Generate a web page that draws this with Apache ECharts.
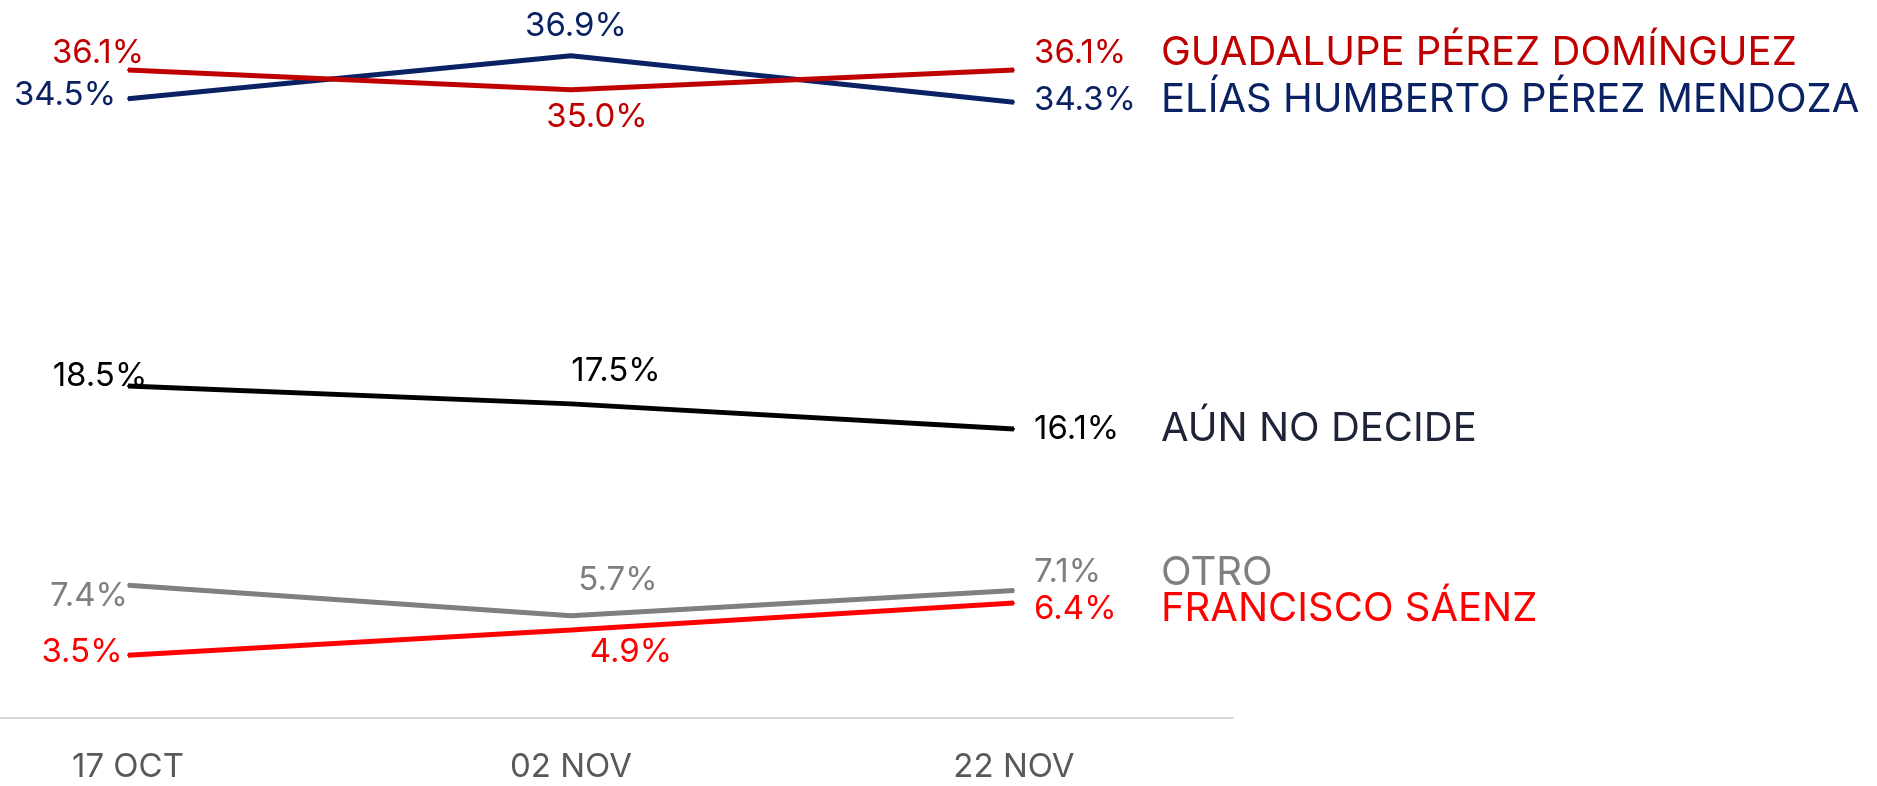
<!DOCTYPE html>
<html>
<head>
<meta charset="utf-8">
<script src="https://cdn.jsdelivr.net/npm/echarts@6/dist/echarts.min.js"></script>
<style>
  html, body { margin: 0; padding: 0; background: #fff; }
  #chart { width: 1877px; height: 786px; }
</style>
</head>
<body>
<div id="chart"></div>
<script>
// datos
const fechas = ['17 OCT', '02 NOV', '22 NOV'];
const guadalupe = [36.1, 35.0, 36.1];
const elias = [34.5, 36.9, 34.3];
const aunNoDecide = [18.5, 17.5, 16.1];
const otro = [7.4, 5.7, 7.1];
const francisco = [3.5, 4.9, 6.4];

const nombres = ['GUADALUPE PÉREZ DOMÍNGUEZ', 'ELÍAS HUMBERTO PÉREZ MENDOZA', 'AÚN NO DECIDE', 'OTRO', 'FRANCISCO SÁENZ'];

const FONT = 'Inter, "Noto Sans", sans-serif';

// colores y desplazamiento de etiquetas (centro de etiqueta respecto al punto)
const cfg = [
  { data: guadalupe, line: '#c00000', text: '#c00000', name: '#c00000', offs: [[-30, -17], [26, 27]], end: -17 },
  { data: elias, line: '#0a2263', text: '#0a2263', name: '#0a2263', offs: [[-63, -4], [5, -30]], end: -2 },
  { data: aunNoDecide, line: '#000000', text: '#000000', name: '#1f2337', offs: [[-28, -10], [45, -33]], end: 0 },
  { data: otro, line: '#7f7f7f', text: '#7f7f7f', name: '#7f7f7f', offs: [[-39, 11], [47, -36]], end: -18 },
  { data: francisco, line: '#ff0000', text: '#ff0000', name: '#ff0000', offs: [[-46, -3], [60, 22]], end: 6 },
];

const chart = echarts.init(document.getElementById('chart'));

const series = cfg.map((c, i) => ({
  type: 'line',
  name: nombres[i],
  xAxisIndex: 0,
  yAxisIndex: 0,
  symbol: 'circle',
  symbolSize: 2,
  itemStyle: { color: c.line },
  lineStyle: { color: c.line, width: 5 },
  z: 10 - i,
  data: c.data.map((v, j) => {
    if (j === c.data.length - 1) {
      return {
        value: v,
        label: {
          show: true,
          position: 'right',
          distance: 0,
          offset: [19, c.end],
          formatter: (p) => `{v|${p.value.toFixed(1)}%}{n|${nombres[i]}}`,
          rich: {
            v: { width: 127, align: 'left', fontSize: 33, color: c.text, fontFamily: FONT },
            n: { fontSize: 40, color: c.name, fontFamily: FONT },
          },
        },
      };
    }
    return {
      value: v,
      label: {
        show: true,
        position: 'inside',
        offset: c.offs[j],
        formatter: (p) => p.value.toFixed(1) + '%',
        fontSize: 33,
        color: c.text,
        fontFamily: FONT,
      },
    };
  }),
}));

const option = {
  animation: false,
  backgroundColor: '#fff',
  grid: [
    { left: 128, right: 863, top: 0, bottom: 68 },
    { left: 0, width: 1233, top: 0, bottom: 68 },
  ],
  xAxis: [
    {
      type: 'category',
      gridIndex: 0,
      data: fechas,
      boundaryGap: false,
      axisLine: { show: false },
      axisTick: { show: false },
      axisLabel: { fontSize: 33, color: '#595959', margin: 33, fontFamily: FONT },
      splitLine: { show: false },
    },
    {
      type: 'value',
      gridIndex: 1,
      min: 0,
      max: 1,
      axisLine: { show: true, lineStyle: { color: '#d9d9d9', width: 2 } },
      axisTick: { show: false },
      axisLabel: { show: false },
      splitLine: { show: false },
    },
  ],
  yAxis: [
    { type: 'value', gridIndex: 0, min: 0, max: 40, show: false },
    { type: 'value', gridIndex: 1, min: 0, max: 40, show: false },
  ],
  series: series,
};

chart.setOption(option);
window.addEventListener('resize', () => chart.resize());
</script>
</body>
</html>
